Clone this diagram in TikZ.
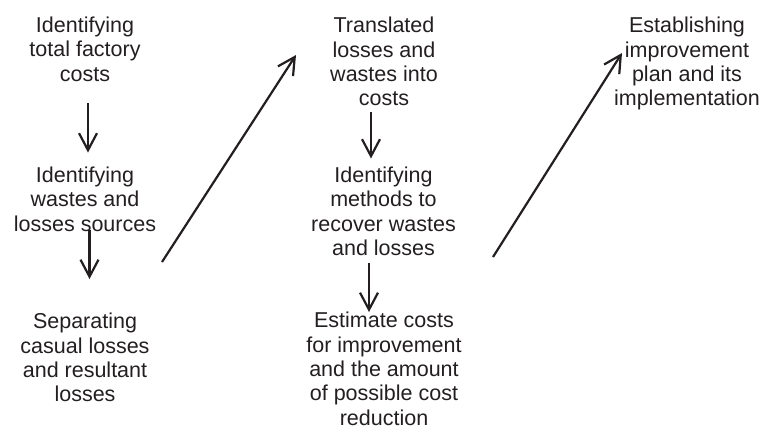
\documentclass[tikz,border=0pt]{standalone}
\usepackage{fontspec}
\setmainfont{Liberation Sans}
\usetikzlibrary{arrows.meta,calc}
\definecolor{ink}{RGB}{35,31,32}
\tikzset{
  lbl/.style={align=center, inner sep=0pt, anchor=north, text=ink,
    font=\fontsize{21.5pt}{24.4pt}\selectfont},
  arr/.style={draw=ink, line width=2.2pt,
    -{Straight Barb[length=17pt,width=18pt,line width=2.2pt]}}
}
\begin{document}
\begin{tikzpicture}[x=1pt,y=-1pt]
\useasboundingbox (0,0) rectangle (763,429);
\node[lbl] (A) at (85,16.5) {Identifying\\total factory\\costs};
\node[lbl] (B) at (85,166.5) {Identifying\\wastes and\\losses sources};
\node[lbl] (C) at (85,313) {Separating\\casual losses\\and resultant\\losses};
\node[lbl] (D) at (384,17) {Translated\\losses and\\wastes into\\costs};
\node[lbl] (E) at (383.5,166.5) {Identifying\\methods to\\recover wastes\\and losses};
\node[lbl] (F) at (384,312) {Estimate costs\\for improvement\\and the amount\\of possible cost\\reduction};
\node[lbl] (G) at (687,17) {Establishing\\improvement\\plan and its\\implementation};
\coordinate (d1s) at (162,262);
\coordinate (d1e) at (296,55);
\coordinate (d2s) at (493,257);
\coordinate (d2e) at (622,53);
\draw[arr] ($(A.south)+(3,22)$) -- ($(B.north)+(3,-14)$);
\draw[arr] ($(B.south)+(4.5,-1)$) -- ($(C.north)+(4.5,-34)$);
\draw[arr] ($(D.south)+(-13,6)$) -- ($(E.north)+(-12.5,-8)$);
\draw[arr] ($(E.south)+(-14.5,7)$) -- ($(F.north)+(-15,0)$);
\draw[arr] (d1s) -- (d1e);
\draw[arr] (d2s) -- (d2e);
\end{tikzpicture}
\end{document}
